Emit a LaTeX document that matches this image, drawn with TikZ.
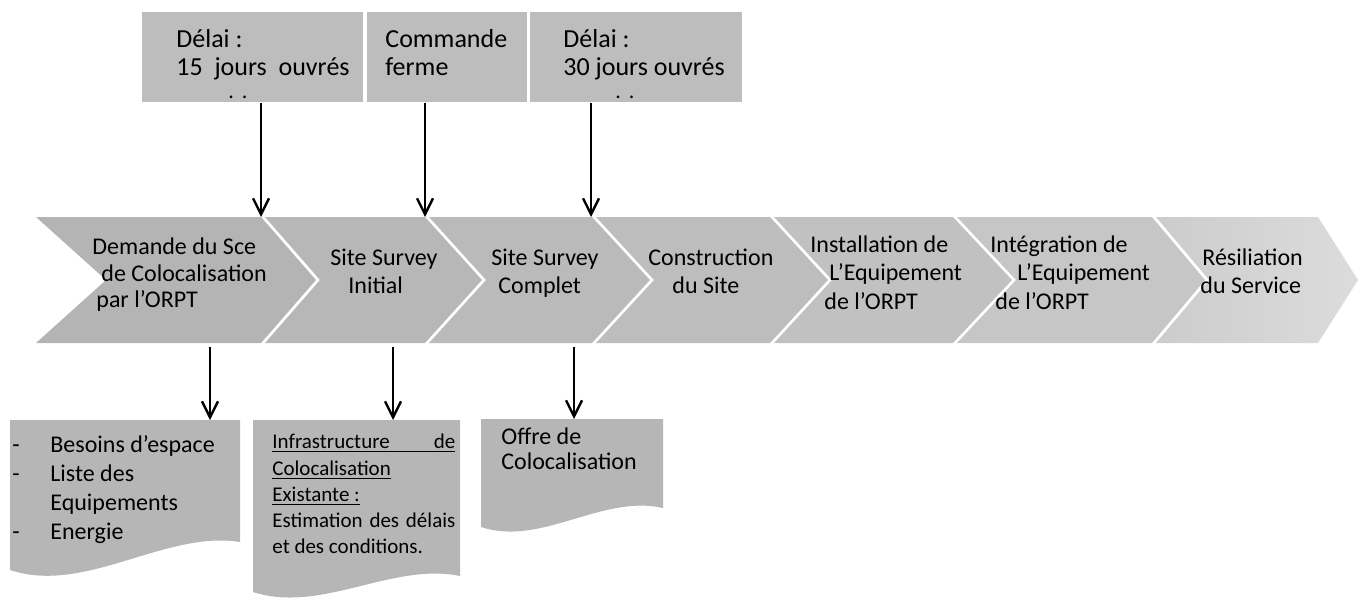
\documentclass[tikz,border=0pt]{standalone}
\usepackage{fontspec}
\setmainfont{Carlito}
\usetikzlibrary{arrows.meta}
\definecolor{topgray}{HTML}{BDBDBD}
\definecolor{botgray}{HTML}{B6B6B6}
\definecolor{chA}{HTML}{B4B4B4}
\definecolor{chB}{HTML}{B7B7B7}
\definecolor{chC}{HTML}{BABABA}
\definecolor{chD}{HTML}{BDBDBD}
\definecolor{chE}{HTML}{C1C1C1}
\definecolor{chF}{HTML}{C6C6C6}
\definecolor{chG}{HTML}{CCCCCC}
\definecolor{chH}{HTML}{DCDCDC}
\begin{document}
\begin{tikzpicture}[x=0.5pt,y=-0.5pt,
  ct/.style={anchor=base west, inner sep=0pt, font=\fontsize{12}{14}\selectfont, text=black},
  tt/.style={anchor=base west, inner sep=0pt, font=\fontsize{13}{16}\selectfont, text=black},
  dt/.style={anchor=base west, inner sep=0pt, font=\fontsize{11}{12}\selectfont, text=black},
  st/.style={anchor=base west, inner sep=0pt, font=\fontsize{10.5}{12}\selectfont, text=black},
  topbox/.style={anchor=north west, inner sep=0pt, fill=topgray, minimum height=45pt},
  arr/.style={draw=black, line width=1.2pt, -{Straight Barb[length=8pt,width=8pt,line width=1.2pt]}},
]
\useasboundingbox (0,0) rectangle (1360,605);

% top boxes
\node[topbox, minimum width=110.5pt] (tb1) at (142,12) {};
\node[topbox, minimum width=80pt] (tb2) at (367,12) {};
\node[topbox, minimum width=106pt] (tb3) at (530,12) {};
\node[tt] (t1a) at (176,47) {Délai :};
\node[tt] (t1b) at (176,75) {15\ \ jours\ \ ouvrés};
\node[dt] (t1c) at (228,98) {.\hspace{4pt}.};
\node[tt] (t2a) at (385,47) {Commande};
\node[tt] (t2b) at (385,75) {ferme};
\node[tt] (t3a) at (563,47) {Délai :};
\node[tt] (t3b) at (563,75) {30 jours ouvrés};
\node[dt] (t3c) at (615,98) {.\hspace{4pt}.};

% chevrons
\fill[chA] (36,217) -- (261,217) -- (316,280) -- (261,343) -- (36,343) -- (106,280) -- cycle;
\fill[chB] (265,217) -- (425,217) -- (482,280) -- (425,343) -- (265,343) -- (320,280) -- cycle;
\fill[chC] (429,217) -- (592,217) -- (650,280) -- (592,343) -- (429,343) -- (486,280) -- cycle;
\fill[chD] (596,217) -- (770,217) -- (828,280) -- (770,343) -- (596,343) -- (654,280) -- cycle;
\fill[chE] (774,217) -- (953,217) -- (1012,280) -- (953,343) -- (774,343) -- (832,280) -- cycle;
\fill[chF] (957,217) -- (1152,217) -- (1205,280) -- (1152,343) -- (957,343) -- (1016,280) -- cycle;
\shade[left color=chG, right color=chH] (1156,217) -- (1318,217) -- (1358,280) -- (1318,343) -- (1156,343) -- (1209,280) -- cycle;

\coordinate (s1) at (261,217);
\coordinate (s2) at (425,217);
\coordinate (s3) at (591,217);

\node[ct] (c1a) at (92,254) {Demande du Sce};
\node[ct] (c1b) at (101,281) {de Colocalisation};
\node[ct] (c1c) at (96,307) {par l’ORPT};
\node[ct] (c2a) at (330,265) {Site Survey};
\node[ct] (c2b) at (348,293) {Initial};
\node[ct] (c3a) at (491,265) {Site Survey};
\node[ct] (c3b) at (498,293) {Complet};
\node[ct] (c4a) at (648,265) {Construction};
\node[ct] (c4b) at (672,293) {du Site};
\node[ct] (c5a) at (810,252) {Installation de};
\node[ct] (c5b) at (829,280) {L’Equipement};
\node[ct] (c5c) at (824,309) {de l’ORPT};
\node[ct] (c6a) at (990,252) {Intégration de};
\node[ct] (c6b) at (1017,280) {L’Equipement};
\node[ct] (c6c) at (995,309) {de l’ORPT};
\node[ct] (c7a) at (1202,265) {Résiliation};
\node[ct] (c7b) at (1200,293) {du Service};

% top arrows
\draw[arr] (s1 |- tb1.south) -- (s1);
\draw[arr] (s2 |- tb2.south) -- (s2);
\draw[arr] (s3 |- tb3.south) -- (s3);

% bottom boxes
\fill[botgray] (10,420) -- (240,420) -- (240,542) .. controls (165,530) and (85,595) .. (10,570) -- cycle;
\fill[botgray] (253,420) -- (460,420) -- (460,576) .. controls (392,562) and (321,614) .. (253,592) -- cycle;
\fill[botgray] (481,419) -- (663,419) -- (663,508) .. controls (602,494) and (541,547) .. (481,527) -- cycle;

\coordinate (k1) at (210,347);
\coordinate (k2) at (393,347);
\coordinate (k3) at (574,347);
\coordinate (b1) at (210,420);
\coordinate (b2) at (393,420);
\coordinate (b3) at (574,419);
\draw[arr] (k1) -- (b1);
\draw[arr] (k2) -- (b2);
\draw[arr] (k3) -- (b3);

\node[ct] (d1) at (12,452) {-};
\node[ct] (d2) at (12,481) {-};
\node[ct] (d4) at (12,539) {-};
\node[ct] (e1) at (50,452) {Besoins d’espace};
\node[ct] (e2) at (50,481) {Liste des};
\node[ct] (e3) at (50,510) {Equipements};
\node[ct] (e4) at (50,539) {Energie};

\node[st] (f1) at (272,448) {\underline{\hbox to 91.5pt{Infrastructure\hfill de}}};
\node[st] (f2) at (272,475) {\underline{Colocalisation}};
\node[st] (f3) at (272,501) {\underline{Existante :}};
\node[st] (f4) at (272,527) {\hbox to 91.5pt{Estimation\hfill des\hfill délais}};
\node[st] (f5) at (272,553) {et des conditions.};

\node[ct] (g1) at (501,444) {Offre de};
\node[ct] (g2) at (501,469) {Colocalisation};
\end{tikzpicture}
\end{document}
